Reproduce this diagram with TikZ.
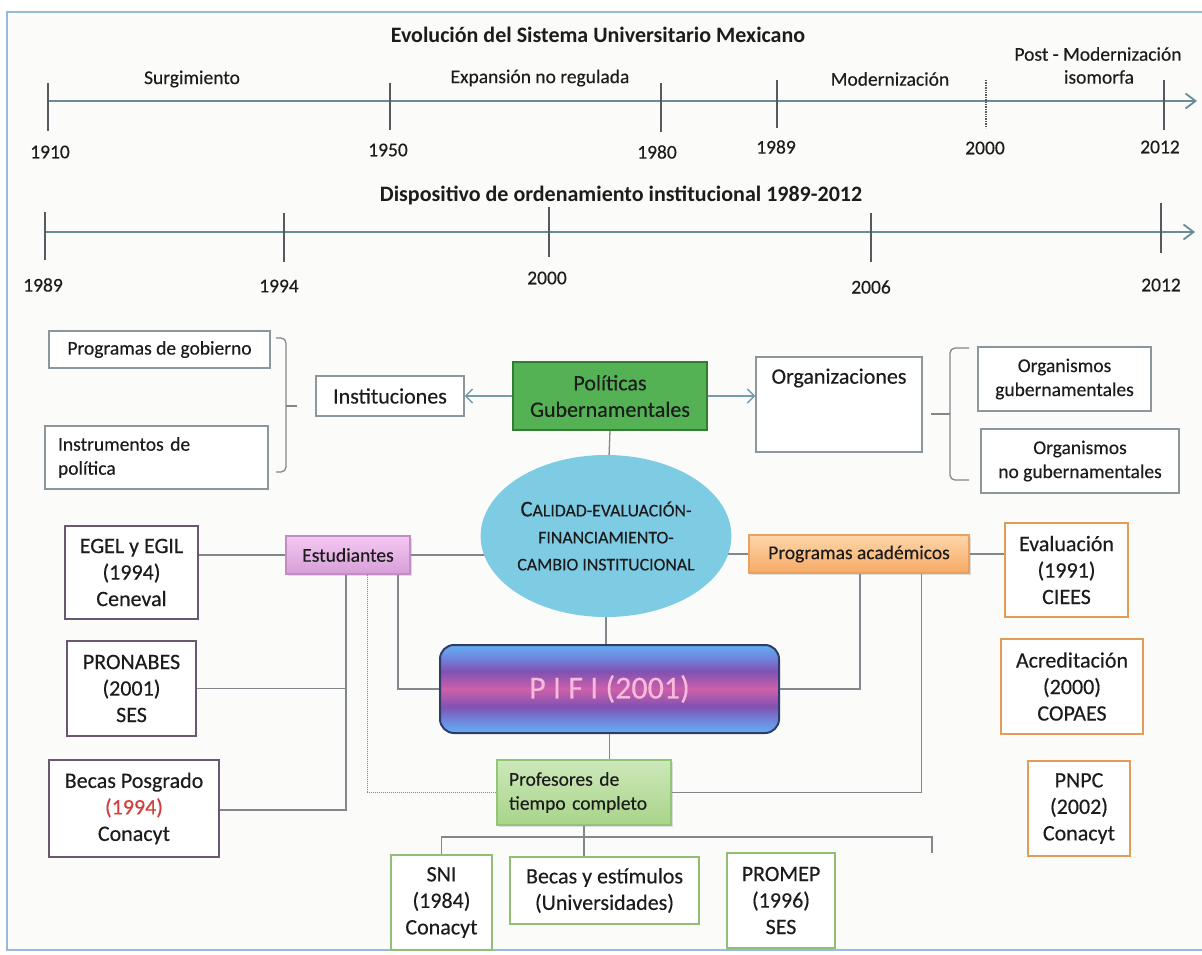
\documentclass[tikz,border=0pt]{standalone}
\usepackage{fontspec}
\setmainfont{Carlito}[UprightFeatures={FakeBold=0.3}]
\usetikzlibrary{arrows.meta,shapes.geometric,shadows,calc}
\definecolor{txt}{RGB}{28,28,28}
\definecolor{bgc}{RGB}{251,252,250}
\definecolor{framec}{RGB}{150,185,220}
\definecolor{tlcol}{RGB}{105,140,150}
\definecolor{tickc}{RGB}{85,90,95}
\definecolor{lncol}{RGB}{130,135,140}
\definecolor{arrcol}{RGB}{120,155,175}
\definecolor{boxgray}{RGB}{140,150,155}
\definecolor{pgf}{RGB}{84,178,84}
\definecolor{pgb}{RGB}{50,125,50}
\definecolor{ellc}{RGB}{126,203,228}
\definecolor{estt}{RGB}{244,200,242}
\definecolor{estb}{RGB}{214,158,216}
\definecolor{estd}{RGB}{195,140,198}
\definecolor{prgt}{RGB}{253,214,170}
\definecolor{prgb}{RGB}{246,170,100}
\definecolor{prgd}{RGB}{236,160,95}
\definecolor{proft}{RGB}{205,232,185}
\definecolor{profb}{RGB}{168,212,138}
\definecolor{profd}{RGB}{145,198,118}
\definecolor{egelc}{RGB}{105,88,112}
\definecolor{orgc}{RGB}{228,155,85}
\definecolor{grnc}{RGB}{145,190,115}
\definecolor{redc}{RGB}{215,60,60}
\definecolor{pifib}{RGB}{45,60,105}
\definecolor{pifitx}{RGB}{248,185,220}
\definecolor{pbA}{RGB}{100,175,240}
\definecolor{pbB}{RGB}{110,135,222}
\definecolor{pbC}{RGB}{128,82,178}
\definecolor{pbD}{RGB}{205,95,170}
\pgfdeclareverticalshading{pifishade}{100bp}{color(0bp)=(pbA); color(25bp)=(pbA); color(32bp)=(pbB); color(40bp)=(pbC); color(50bp)=(pbD); color(60bp)=(pbC); color(68bp)=(pbB); color(75bp)=(pbA); color(100bp)=(pbA)}
\pgfdeclarelayer{bg}
\pgfsetlayers{bg,main}
\newcommand\fsA{\fontsize{19.5}{24}\selectfont}
\newcommand\fsB{\fontsize{22}{26.5}\selectfont}
\newcommand\fsC{\fontsize{17.8}{27}\selectfont}
\begin{document}
\begin{tikzpicture}[x=1pt,y=-1pt,
  box/.style={draw=boxgray, line width=1.2pt, fill=white, text=txt, align=center, inner sep=2pt},
  pbox/.style={box, draw=egelc, line width=2pt, font=\fsB},
  obox/.style={box, draw=orgc, line width=2pt, font=\fsB},
  gbox/.style={box, draw=grnc, line width=1.8pt, font=\fsB},
  catbox/.style={text=txt, align=center, line width=1.2pt, drop shadow={opacity=0.25, shadow xshift=2pt, shadow yshift=-2pt}},
  conn/.style={draw=lncol, line width=1.3pt},
  arr/.style={draw=arrcol, line width=1.4pt, -{Straight Barb[length=7pt,width=14pt]}},
  tl/.style={draw=tlcol, line width=1.8pt, -{Straight Barb[length=10pt,width=15pt]}},
  tick/.style={draw=tickc, line width=1.4pt},
  yr/.style={text=txt, font=\fsA},
  ttl/.style={text=txt, font=\fsB\bfseries}
]
\useasboundingbox (0,0) rectangle (1202,954);
\begin{pgfonlayer}{bg}
\fill[white] (0,0) rectangle (1202,954);
\fill[bgc] (7,12) rectangle (1215,950);
\draw[framec, line width=2.5pt] (7,12) rectangle (1215,950);
\end{pgfonlayer}

% ---- Timeline 1
\node[ttl] (t1) at (598,35) {Evolución del Sistema Universitario Mexicano};
\coordinate (a1) at (47,101);
\coordinate (a2) at (1197,101);
\draw[tl] (a1) -- (a2);
\draw[tick] (48,83) -- (48,131);
\draw[tick] (390,83) -- (390,130);
\draw[tick] (661,83) -- (661,132);
\draw[tick] (777,80) -- (777,128);
\draw[tick, densely dotted] (986,80) -- (986,128);
\draw[tick] (1164,80) -- (1164,130);
\node[yr] (y1910) at (50,152) {1910};
\node[yr] (y1950) at (388,150) {1950};
\node[yr] (y1980) at (657,152) {1980};
\node[yr] (y1989a) at (776,147) {1989};
\node[yr] (y2000a) at (985,148) {2000};
\node[yr] (y2012a) at (1160,147) {2012};
\node[yr] (p1) at (192,79) {Surgimiento};
\node[yr] (p2) at (540,78) {Expansión no regulada};
\node[yr] (p3) at (890,79) {Modernización};
\node[yr] (p4) at (1098,54) {Post - Modernización};
\node[yr] (p5) at (1099,77) {isomorfa};

% ---- Timeline 2
\node[ttl] (t2) at (621,195) {Dispositivo de ordenamiento institucional 1989-2012};
\coordinate (b1) at (45,232);
\coordinate (b2) at (1195,232);
\draw[tl] (b1) -- (b2);
\draw[tick] (45,212) -- (45,260);
\draw[tick] (284,213) -- (284,262);
\draw[tick] (549,207) -- (549,257);
\draw[tick] (871,213) -- (871,262);
\draw[tick] (1161,203) -- (1161,253);
\node[yr] (z1989) at (43,285) {1989};
\node[yr] (z1994) at (279,286) {1994};
\node[yr] (z2000) at (547,278) {2000};
\node[yr] (z2006) at (871,287) {2006};
\node[yr] (z2012) at (1161,285) {2012};

% ---- Upper boxes
\node[box, minimum width=221pt, minimum height=37pt, font=\fsA] (prog) at (159.5,349.5) {Programas de gobierno};
\node[box, minimum width=223pt, minimum height=63pt, font=\fsA, align=left, text width=197pt] (instr) at (156.5,457.5) {Instrumentos de\\política};
\node[box, minimum width=148pt, minimum height=40pt, font=\fsB] (inst) at (390,396) {Instituciones};
\node[draw=pgb, fill=pgf, line width=1.5pt, minimum width=194pt, minimum height=68pt, font=\fsB, align=center, text=txt] (pg) at (610,396) {Políticas\\Gubernamentales};
\node[box, minimum width=166pt, minimum height=95pt] (org) at (839,404.5) {};
\node[text=txt, font=\fsB] (orgt) at (839,378) {Organizaciones};
\node[box, minimum width=173pt, minimum height=64pt, font=\fsA] (og) at (1064.5,379) {Organismos\\gubernamentales};
\node[box, minimum width=198pt, minimum height=64pt, font=\fsA] (ong) at (1080,461) {Organismos\\no gubernamentales};

% braces
\draw[conn, rounded corners=5pt] (276,338) -- (286,338) -- (286,472) -- (276,472);
\draw[conn] (286,406) -- (297,406);
\draw[conn, rounded corners=5pt] (969,348) -- (950,348) -- (950,480) -- (969,480);
\draw[conn] (950,414) -- (931,414);

% ---- Centre
\node[ellipse, fill=ellc, minimum width=238pt, minimum height=162pt, inner sep=0pt, text=txt, align=center, font=\fsC] (ell) at (606,536)
  {{\fontsize{22.5}{27}\selectfont C}ALIDAD-EVALUACIÓN-\\FINANCIAMIENTO-\\CAMBIO INSTITUCIONAL};
\node[catbox, draw=estd, top color=estt, bottom color=estb, minimum width=124pt, minimum height=38pt, font=\fsA] (est) at (348,555) {Estudiantes};
\node[catbox, draw=prgd, top color=prgt, bottom color=prgb, minimum width=220pt, minimum height=38pt, font=\fsA] (prga) at (859,554) {Programas académicos};
\node[draw=pifib, line width=2pt, rounded corners=14pt, shading=pifishade, minimum width=339pt, minimum height=88pt, text=pifitx, font=\fontsize{32}{36}\selectfont] (pifi) at (609.5,689) {P I F I (2001)};
\node[catbox, draw=profd, top color=proft, bottom color=profb, minimum width=174pt, minimum height=65pt, font=\fsA, align=left, text width=150pt] (prof) at (584,792.5) {Profesores de\\tiempo completo};

% ---- Left column
\node[pbox, minimum width=133pt, minimum height=93pt] (egel) at (131.5,572.5) {EGEL y EGIL\\(1994)\\Ceneval};
\node[pbox, minimum width=129pt, minimum height=95pt] (pron) at (131.5,688.5) {PRONABES\\(2001)\\SES};
\node[pbox, minimum width=170pt, minimum height=97pt] (becp) at (134,808.5) {Becas Posgrado\\\textcolor{redc}{(1994)}\\Conacyt};

% ---- Right column
\node[obox, minimum width=123pt, minimum height=94pt] (eval) at (1066.5,570) {Evaluación\\(1991)\\CIEES};
\node[obox, minimum width=142pt, minimum height=95pt] (acr) at (1072,686.5) {Acreditación\\(2000)\\COPAES};
\node[obox, minimum width=102pt, minimum height=95pt] (pnpc) at (1079,808.5) {PNPC\\(2002)\\Conacyt};

% ---- Bottom row
\node[gbox, minimum width=101pt, minimum height=95pt] (sni) at (441.5,902.5) {SNI\\(1984)\\Conacyt};
\node[gbox, minimum width=189pt, minimum height=67pt] (becE) at (604.5,890.5) {Becas y estímulos\\(Universidades)};
\node[gbox, minimum width=108pt, minimum height=95pt] (promep) at (781,900.5) {PROMEP\\(1996)\\SES};

% ---- Connectors
\draw[arr] (pg.west) -- (inst.east);
\draw[arr] (pg.east) -- (pg.east -| org.west);
\begin{pgfonlayer}{bg}
\draw[conn] (pg.south) -- (ell.center);
\draw[conn] (est.east) -- (est.east -| ell.center);
\draw[conn] (prga.west) -- (prga.west -| ell.center);
\draw[conn] (ell.center) -- (ell.center |- pifi.north);
\end{pgfonlayer}
\draw[conn] (est.west) -- (est.west -| egel.east);
\draw[conn] (prga.east) -- (prga.east -| eval.west);
\coordinate (ex1) at (346,810);
\coordinate (ex2) at (367,0);
\coordinate (ex3) at (398,0);
\draw[conn] (est.south -| ex1) -- (ex1) -- (ex1 -| becp.east);
\draw[conn] (pron.east) -- (pron.east -| ex1);
\draw[conn, line width=1pt, densely dotted] (est.south -| ex2) |- (prof.west);
\draw[conn] (est.south -| ex3) |- (pifi.west);
\coordinate (px1) at (860,0);
\coordinate (px2) at (921,0);
\draw[conn] (prga.south -| px1) |- (pifi.east);
\draw[conn, line width=1pt] (prga.south -| px2) |- (prof.east);
\draw[conn] (pifi.south) -- (pifi.south |- prof.north);
\coordinate (bbl) at (441.5,837);
\coordinate (bbr) at (932,837);
\coordinate (bbe) at (932,853);
\draw[conn] (sni.north) -- (bbl) -- (bbr) -- (bbe);
\draw[conn] (prof.south) -- (prof.south |- becE.north);
\end{tikzpicture}
\end{document}
